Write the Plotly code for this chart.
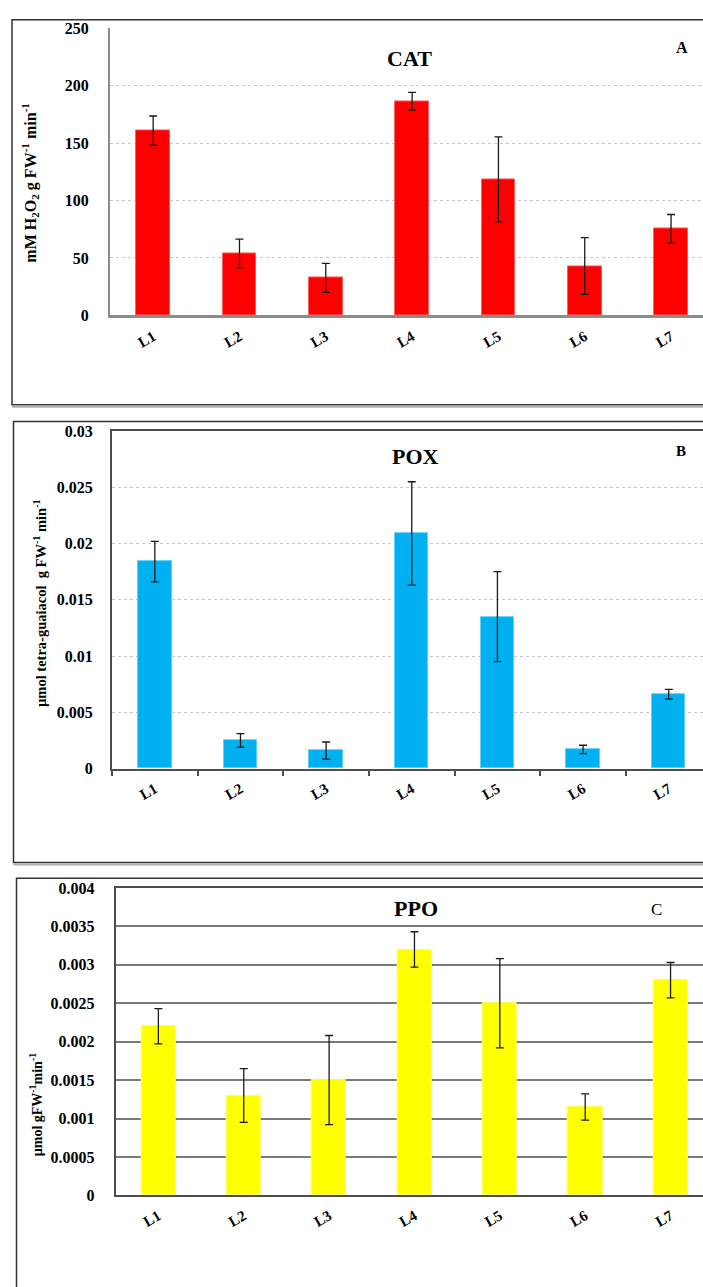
import plotly.graph_objects as go

lines = ["L1", "L2", "L3", "L4", "L5", "L6", "L7"]

cat_mean = [161, 54, 32.7, 186.6, 118.5, 43, 75.4]
cat_err = [12.7, 12.5, 12.7, 7.7, 37, 24.7, 12.5]
cat_ticks = [0, 50, 100, 150, 200, 250]

pox_mean = [0.0184, 0.0025, 0.0016, 0.0209, 0.0135, 0.0017, 0.0066]
pox_err = [0.0018, 0.0006, 0.00076, 0.0046, 0.004, 0.00037, 0.00043]
pox_ticks = [0, 0.005, 0.01, 0.015, 0.02, 0.025, 0.03]
pox_ticktext = ["0", "0.005", "0.01", "0.015", "0.02", "0.025", "0.03"]

ppo_mean = [0.0022, 0.0013, 0.0015, 0.0032, 0.0025, 0.00115, 0.0028]
ppo_err = [0.00023, 0.00035, 0.00058, 0.00023, 0.00058, 0.00017, 0.00023]
ppo_ticks = [0, 0.0005, 0.001, 0.0015, 0.002, 0.0025, 0.003, 0.0035, 0.004]
ppo_ticktext = ["0", "0.0005", "0.001", "0.0015", "0.002", "0.0025", "0.003", "0.0035", "0.004"]

W, H = 703, 1287
FONT = "Liberation Serif"


def px(x):
    return x / W


def py(y):
    return 1 - y / H


def b(s):
    return f"<b>{s}</b>"


fig = go.Figure()

err_style = dict(type="data", color="#1a1a1a", thickness=1.3, width=4, visible=True)

fig.add_trace(go.Bar(x=lines, y=cat_mean, error_y=dict(array=cat_err, **err_style),
                     marker=dict(color="#FF0000", line=dict(color="#FF6060", width=1)),
                     width=0.39, xaxis="x", yaxis="y", showlegend=False))
fig.add_trace(go.Bar(x=lines, y=pox_mean, error_y=dict(array=pox_err, **err_style),
                     marker=dict(color="#00B0F0", line=dict(color="#60D0F8", width=1)),
                     width=0.39, xaxis="x2", yaxis="y2", showlegend=False))
fig.add_trace(go.Bar(x=lines, y=ppo_mean, error_y=dict(array=ppo_err, **err_style),
                     marker=dict(color="#FFFF00", line=dict(color="#FFFF60", width=1)),
                     width=0.40, xaxis="x3", yaxis="y3", showlegend=False))

tickfont = dict(family=FONT, size=16, color="#000000")
xtickfont = dict(family=FONT, size=15, color="#000000")
xticktext = [b(s) for s in lines]

# panel geometry (pixels)
A = dict(left=110, top=20.7, bottom=311.5, xr=6.37)
B = dict(left=112, top=428.8, bottom=770.7, xr=6.40)
C = dict(left=115.7, top=891.7, bottom=1203.3, xr=6.38)

common_x = dict(tickangle=-30, tickfont=xtickfont, showgrid=False,
                tickvals=lines, ticktext=xticktext, ticklabelstandoff=4)

fig.update_layout(
    width=W, height=H,
    margin=dict(l=0, r=0, t=0, b=0),
    paper_bgcolor="white", plot_bgcolor="white",
    font=dict(family=FONT, color="#000"),
    bargap=0,
    xaxis=dict(domain=[px(A["left"]), 1], range=[-0.5, A["xr"]], anchor="y",
               showline=True, linecolor="#8c8c8c", linewidth=2.5, ticks="", **common_x),
    yaxis=dict(domain=[py(A["bottom"]), py(A["top"])], range=[0, 250], anchor="x",
               tickvals=cat_ticks, ticktext=[b(v) for v in cat_ticks],
               showline=True, linecolor="#8c8c8c",
               linewidth=2, showgrid=True, gridcolor="#c8c8c8", griddash="dot", gridwidth=1,
               tickfont=tickfont, ticks="", ticklabelstandoff=16, zeroline=False),
    xaxis2=dict(domain=[px(B["left"]), 1], range=[-0.5, B["xr"]], anchor="y2",
                showline=True, linecolor="#4d4d4d", linewidth=2, mirror=True,
                ticks="outside", tickson="boundaries", ticklen=5, tickcolor="#4d4d4d",
                tickwidth=1.5, **common_x),
    yaxis2=dict(domain=[py(B["bottom"]), py(B["top"])], range=[0, 0.03], anchor="x2",
                tickvals=pox_ticks, ticktext=[b(t) for t in pox_ticktext],
                showline=True, linecolor="#4d4d4d", linewidth=2, showgrid=True,
                gridcolor="#c8c8c8", griddash="dot", gridwidth=1,
                tickfont=tickfont, ticks="", ticklabelstandoff=14, zeroline=False),
    xaxis3=dict(domain=[px(C["left"]), 1], range=[-0.5, C["xr"]], anchor="y3",
                showline=True, linecolor="#4d4d4d", linewidth=2, mirror=True,
                ticks="", **common_x),
    yaxis3=dict(domain=[py(C["bottom"]), py(C["top"])], range=[0, 0.004], anchor="x3",
                tickvals=ppo_ticks, ticktext=[b(t) for t in ppo_ticktext],
                showline=True, linecolor="#4d4d4d", linewidth=2, showgrid=True,
                gridcolor="#7a7a7a", gridwidth=1.6,
                tickfont=tickfont, ticks="", ticklabelstandoff=16, zeroline=False),
)

# outer frames
frame = dict(type="rect", xref="paper", yref="paper", line=dict(color="#333333", width=1.5),
             fillcolor="rgba(0,0,0,0)", layer="below")
fig.add_shape(x0=px(12), x1=px(720), y0=py(402), y1=py(12), **frame)
fig.add_shape(x0=px(13.5), x1=px(720), y0=py(866), y1=py(419), **frame)
fig.add_shape(x0=px(16.5), x1=px(720), y0=py(1300), y1=py(882), **frame)
# light shadow under frames A and B
shadow = dict(type="line", xref="paper", yref="paper", line=dict(color="#b0b0b0", width=2), layer="below")
fig.add_shape(x0=px(12), x1=px(720), y0=py(404), y1=py(404), **shadow)
fig.add_shape(x0=px(13.5), x1=px(720), y0=py(868), y1=py(868), **shadow)

ann = []


def text(x, y, s, size, bold=True, angle=0):
    ann.append(dict(x=px(x), y=py(y), xref="paper", yref="paper", text=(b(s) if bold else s),
                    showarrow=False, textangle=angle, xanchor="center", yanchor="middle",
                    font=dict(family=FONT, size=size, color="#000")))


text(409, 51, "CAT", 22)
text(682, 40, "A", 16)
text(415, 454, "POX", 22)
text(681, 449, "B", 15)
text(416, 913, "PPO", 22)
text(656, 914, "C", 17, bold=False)

text(30, 177, "mM H<sub>2</sub>O<sub>2</sub> g FW<sup>-1</sup> min<sup>-1</sup>", 16, angle=-90)
text(40, 603, "µmol tetra-guaiacol  g FW<sup>-1</sup> min<sup>-1</sup>", 14.5, angle=-90)
text(36, 1112, "µmol gFW<sup>-1</sup>min<sup>-1</sup>", 14, angle=-90)

fig.update_layout(annotations=ann)

fig.write_html("out.html", config={"displayModeBar": False},
               post_script="document.body.style.margin='0';document.body.style.overflow='hidden';")
